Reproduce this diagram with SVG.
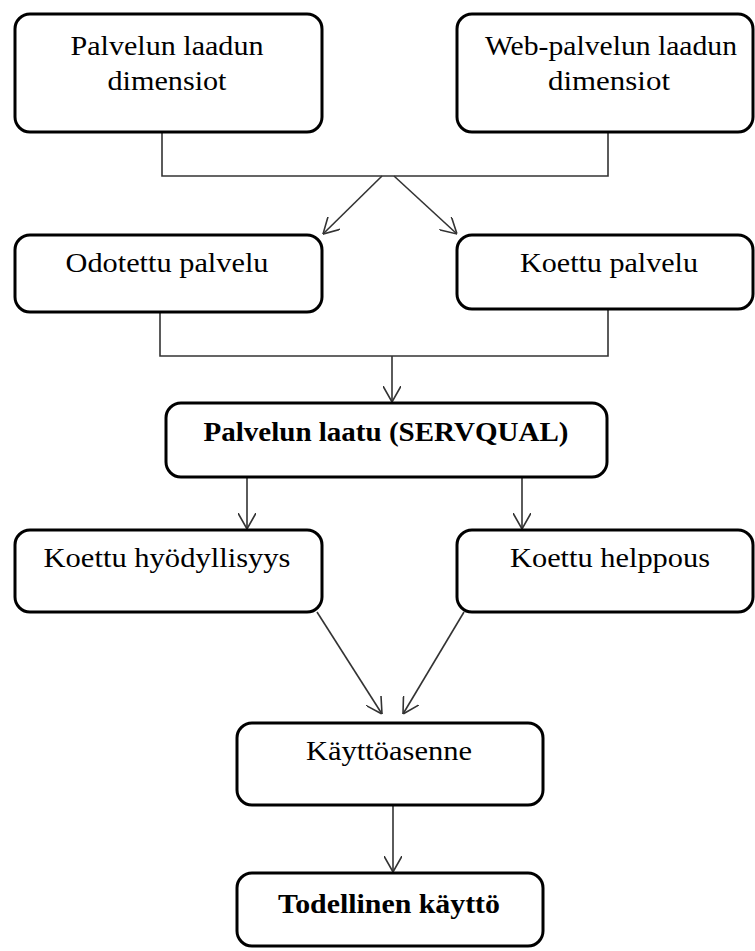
<svg xmlns="http://www.w3.org/2000/svg" width="755" height="951" viewBox="0 0 755 951">
<style>
.box{fill:#fff;stroke:#000;stroke-width:3}
.t{font-family:"Liberation Serif","Times New Roman",serif;font-size:27px;fill:#000;text-anchor:middle}
.b{font-weight:bold}
.c{fill:none;stroke:#333;stroke-width:1.6}
</style>
<defs>
<marker id="arr" markerUnits="userSpaceOnUse" viewBox="0 0 16 18" refX="16" refY="9" markerWidth="16" markerHeight="18" orient="auto">
<path d="M0,0 L16,9 L0,18" fill="none" stroke="#333" stroke-width="1.6"/>
</marker>
</defs>
<rect width="755" height="951" fill="#fff"/>
<g id="connectors">
<path class="c" d="M162,132 V176 H608 V132"/>
<line class="c" x1="382" y1="176" x2="323" y2="234" marker-end="url(#arr)"/>
<line class="c" x1="394" y1="176" x2="457" y2="234" marker-end="url(#arr)"/>
<path class="c" d="M160,312 V356 H608 V309"/>
<line class="c" x1="392" y1="356" x2="392" y2="402" marker-end="url(#arr)"/>
<line class="c" x1="247" y1="477" x2="247" y2="529" marker-end="url(#arr)"/>
<line class="c" x1="522" y1="477" x2="522" y2="529" marker-end="url(#arr)"/>
<line class="c" x1="317" y1="612" x2="382" y2="714" marker-end="url(#arr)"/>
<line class="c" x1="464" y1="612" x2="403" y2="714" marker-end="url(#arr)"/>
<line class="c" x1="393" y1="805" x2="393" y2="872" marker-end="url(#arr)"/>
</g>
<g id="n1">
<rect class="box" x="15" y="14" width="307" height="118" rx="15"/>
<text class="t" x="167" y="55" textLength="193" lengthAdjust="spacingAndGlyphs">Palvelun laadun</text>
<text class="t" x="167" y="90" textLength="119" lengthAdjust="spacingAndGlyphs">dimensiot</text>
</g>
<g id="n2">
<rect class="box" x="457" y="14" width="296" height="118" rx="15"/>
<text class="t" x="611" y="55" textLength="252" lengthAdjust="spacingAndGlyphs">Web-palvelun laadun</text>
<text class="t" x="609" y="90" textLength="122" lengthAdjust="spacingAndGlyphs">dimensiot</text>
</g>
<g id="n3">
<rect class="box" x="15" y="235" width="307" height="77" rx="15"/>
<text class="t" x="167" y="272" textLength="203" lengthAdjust="spacingAndGlyphs">Odotettu palvelu</text>
</g>
<g id="n4">
<rect class="box" x="457" y="235" width="296" height="74" rx="15"/>
<text class="t" x="609" y="272" textLength="178" lengthAdjust="spacingAndGlyphs">Koettu palvelu</text>
</g>
<g id="n5">
<rect class="box" x="166" y="403" width="441" height="74" rx="15"/>
<text class="t b" x="386" y="441" textLength="365" lengthAdjust="spacingAndGlyphs">Palvelun laatu (SERVQUAL)</text>
</g>
<g id="n6">
<rect class="box" x="15" y="530" width="307" height="82" rx="15"/>
<text class="t" x="167" y="567" textLength="247" lengthAdjust="spacingAndGlyphs">Koettu hyödyllisyys</text>
</g>
<g id="n7">
<rect class="box" x="457" y="530" width="296" height="82" rx="15"/>
<text class="t" x="610" y="567" textLength="200" lengthAdjust="spacingAndGlyphs">Koettu helppous</text>
</g>
<g id="n8">
<rect class="box" x="237" y="723" width="306" height="82" rx="15"/>
<text class="t" x="389" y="760" textLength="166" lengthAdjust="spacingAndGlyphs">Käyttöasenne</text>
</g>
<g id="n9">
<rect class="box" x="237" y="873" width="306" height="73" rx="15"/>
<text class="t b" x="389" y="913" textLength="222" lengthAdjust="spacingAndGlyphs">Todellinen käyttö</text>
</g>
</svg>
